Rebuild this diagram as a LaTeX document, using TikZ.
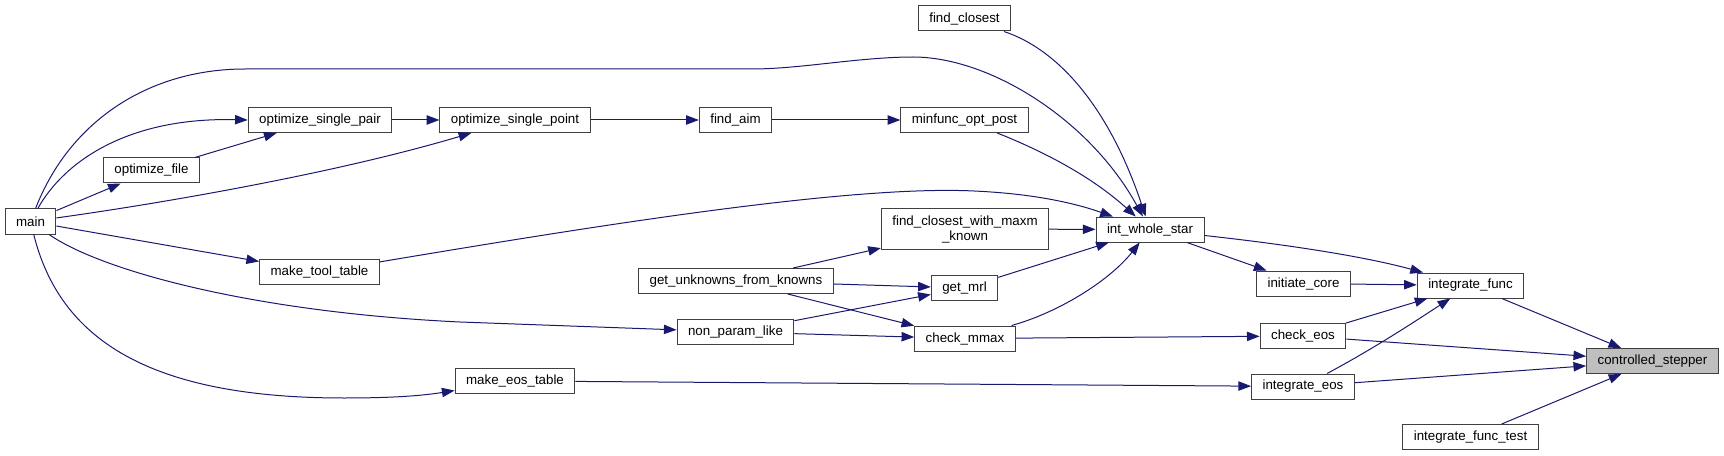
\documentclass[tikz,border=0pt]{standalone}
\usepackage{fontspec}
\setmainfont{Liberation Sans}
\usetikzlibrary{arrows.meta}
\definecolor{callblue}{HTML}{191970}
\definecolor{boxgrey}{HTML}{404040}
\definecolor{selfgrey}{HTML}{BFBFBF}
\begin{document}
\begin{tikzpicture}[x=0.75pt, y=-0.75pt,
    fn/.style={draw=boxgrey, line width=0.75pt, fill=white, inner xsep=8.25pt, inner ysep=1pt,
      minimum height=18.75pt, align=center, font=\fontsize{10}{11.25}\selectfont},
    callline/.style={draw=callblue, line width=0.75pt, -{Triangle[length=9.5pt,width=7pt]}}]
      \useasboundingbox (0,0) rectangle (1724,456);

      % callers, left to right
      \node[fn] (main) at (30.5,221.5) {main};
      \node[fn] (optfile) at (151.5,170.5) {optimize\_file};
      \node[fn] (optpair) at (320,120) {optimize\_single\_pair};
      \node[fn] (tooltab) at (319.5,272) {make\_tool\_table};
      \node[fn] (optpoint) at (515,120) {optimize\_single\_point};
      \node[fn] (eostab) at (515,381) {make\_eos\_table};
      \node[fn] (findaim) at (735.5,120) {find\_aim};
      \node[fn] (unknowns) at (736,281) {get\_unknowns\_from\_knowns};
      \node[fn] (nonparam) at (735.5,332) {non\_param\_like};
      \node[fn] (findclosest) at (964.5,18.5) {find\_closest};
      \node[fn] (minfunc) at (964.5,120) {minfunc\_opt\_post};
      \node[fn, minimum height=30pt] (fcmaxm) at (965,229) {find\_closest\_with\_maxm\\\_known};
      \node[fn] (getmrl) at (964.5,288) {get\_mrl};
      \node[fn] (checkmmax) at (965,338.5) {check\_mmax};
      \node[fn] (iws) at (1150,229.5) {int\_whole\_star};
      \node[fn] (initcore) at (1303.5,283.5) {initiate\_core};
      \node[fn] (checkeos) at (1303,336) {check\_eos};
      \node[fn] (inteos) at (1303,386.5) {integrate\_eos};
      \node[fn] (intfunc) at (1470.5,285.5) {integrate\_func};
      \node[fn] (intfunctest) at (1470.5,437) {integrate\_func\_test};
      \node[fn, fill=selfgrey] (stepper) at (1652.5,361) {controlled\_stepper};

      % calls from main
      \draw[callline] (main) .. controls (70,120) and (150,69) .. (245,69) -- (752,69)
        .. controls (800,69) and (860,57) .. (913,57) .. controls (990,57) and (1090,120) .. (iws);
      \draw[callline] (main) .. controls (65,160) and (130,117) .. (optpair.west);
      \draw[callline] (main) -- (optfile);
      \draw[callline] (main) .. controls (150,205) and (330,175) .. (optpoint);
      \draw[callline] (main) -- (tooltab);
      \draw[callline] (main) .. controls (100,270) and (250,312) .. (460,322) -- (nonparam);
      \draw[callline] (main) .. controls (60,340) and (150,398) .. (344,398)
        .. controls (390,398) and (420,396) .. (eostab);

      \draw[callline] (optfile) -- (optpair);
      \draw[callline] (optpair) -- (optpoint);
      \draw[callline] (optpoint) -- (findaim);
      \draw[callline] (findaim) -- (minfunc);
      \draw[callline] (tooltab) .. controls (600,225) and (850,185) .. (974,191)
        .. controls (1040,194) and (1080,205) .. (iws);
      \draw[callline] (eostab) -- (inteos);

      \draw[callline] (unknowns) -- (fcmaxm);
      \draw[callline] (unknowns) -- (getmrl);
      \draw[callline] (unknowns) -- (checkmmax);
      \draw[callline] (nonparam) -- (getmrl);
      \draw[callline] (nonparam) -- (checkmmax);

      % into int_whole_star
      \draw[callline] (findclosest) .. controls (1060,50) and (1110,110) .. (iws);
      \draw[callline] (minfunc) .. controls (1040,150) and (1090,175) .. (iws);
      \draw[callline] (fcmaxm) -- (iws);
      \draw[callline] (getmrl) -- (iws);
      \draw[callline] (checkmmax) .. controls (1060,312) and (1110,280) .. (iws);
      \draw[callline] (checkmmax) -- (checkeos);

      \draw[callline] (iws) .. controls (1300,246) and (1370,258) .. (intfunc);
      \draw[callline] (iws) -- (initcore);
      \draw[callline] (initcore) -- (intfunc);
      \draw[callline] (checkeos) -- (intfunc);
      \draw[callline] (inteos) .. controls (1380,345) and (1420,318) .. (intfunc);

      % into controlled_stepper
      \draw[callline] (intfunc) -- (stepper);
      \draw[callline] (checkeos) -- (stepper);
      \draw[callline] (inteos) -- (stepper);
      \draw[callline] (intfunctest) -- (stepper);
    \end{tikzpicture}
\end{document}
